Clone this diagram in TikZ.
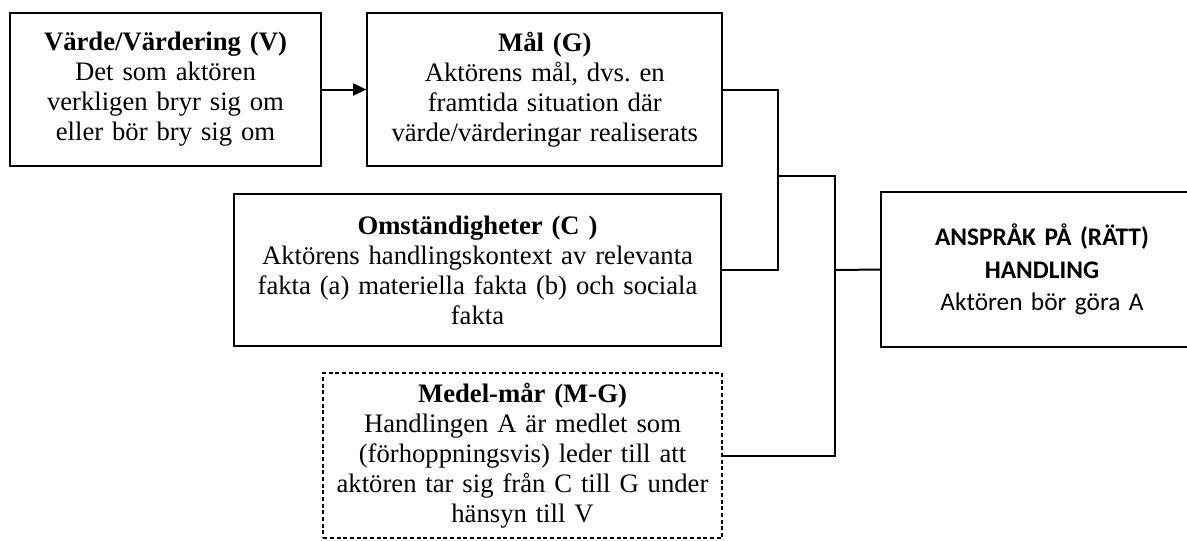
\documentclass[tikz,border=0pt]{standalone}
\usepackage{fontspec}
\setmainfont{Liberation Serif}
\newfontfamily\calfont{Carlito}
\usepackage{tikz}
\usetikzlibrary{arrows.meta}

\tikzset{
  box/.style={draw, line width=1.5pt, inner sep=0pt, align=center,
    font=\fontsize{20}{22.5}\selectfont},
  dashbox/.style={box, line width=1.2pt, dash pattern=on 3pt off 2pt},
  wire/.style={line width=1.5pt},
}

\begin{document}
\frenchspacing
\begin{tikzpicture}[x=0.75pt,y=0.75pt,yscale=-1,xscale=1]
\useasboundingbox (0,0) rectangle (1187,540);
%Boxes
\node [box, text width=233pt, minimum height=115pt] (vard) at (165.5,89.5)
  {\textbf{Värde/Värdering (V)}\\Det som aktören\\verkligen bryr sig om\\eller bör bry sig om};
\node [box, text width=266pt, minimum height=115pt] (mal) at (544.75,89.5)
  {\textbf{Mål (G)}\\Aktörens mål, dvs. en\\framtida situation där\\värde/värderingar realiserats};
\node [box, text width=365pt, minimum height=114pt] (omst) at (477.5,270)
  {\textbf{Omständigheter (C )}\\Aktörens handlingskontext av relevanta\\fakta (a) materiella fakta (b) och sociala\\fakta};
\node [dashbox, text width=299pt, minimum height=124pt] (medel) at (522.5,455.5)
  {\textbf{Medel-mår (M-G)}\\Handlingen A är medlet som\\(förhoppningsvis) leder till att\\aktören tar sig från C till G under\\hänsyn till V};
\node [box, draw=none, text width=240pt, minimum height=115pt, font=\calfont\fontsize{19}{24.3}\selectfont] (ansprak) at (1042,269.5)
  {\textbf{ANSPRÅK PÅ (RÄTT)}\\\textbf{HANDLING}\\Aktören bör göra A};
% box runs off the page on the right
\draw [wire] (ansprak.north east) -- (ansprak.north west) -- (ansprak.south west) -- (ansprak.south east);
%Junctions
\coordinate (j1) at (778,176);
\coordinate (j2) at (835,270);
%Connectors
\draw [wire, -{Triangle[length=10pt,width=9pt]}] (vard) -- (mal);
\draw [wire] (mal.east) -| (j1) |- (omst.east);
\draw [wire] (j1) -| (j2) |- (medel.east);
\draw [wire] (j2) -- (ansprak.west);
\end{tikzpicture}
\end{document}
